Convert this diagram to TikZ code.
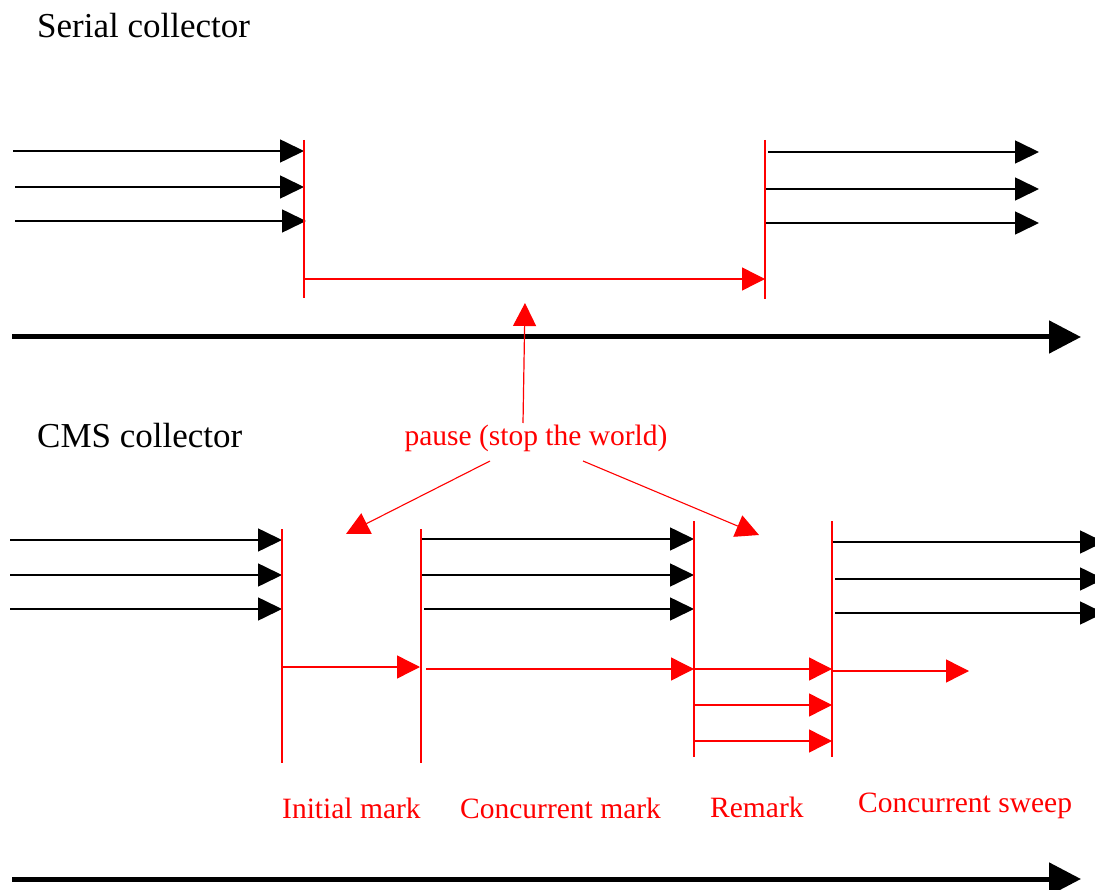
\documentclass[tikz,border=0pt]{standalone}
\usepackage{fontspec}
\setmainfont{Liberation Serif}
\usetikzlibrary{arrows.meta}
\definecolor{pure red}{RGB}{255,0,0}
\tikzset{
  blk/.style={draw=black, line width=1.6pt, -{Triangle[length=24pt,width=23pt]}},
  redarr/.style={draw=pure red, line width=1.4pt, -{Triangle[length=23pt,width=23pt]}},
  redbar/.style={draw=pure red, line width=1.4pt},
  timeline/.style={draw=black, line width=5pt, -{Triangle[length=32pt,width=32pt]}},
  title/.style={font=\fontsize{35}{40}\selectfont, text=black, inner sep=0pt, anchor=base west},
  redlabel/.style={font=\fontsize{29.5}{34}\selectfont, text=pure red, inner sep=0pt, anchor=base west},
}
\begin{document}
\begin{tikzpicture}[x=1pt,y=-1pt]
\useasboundingbox[fill=white] (0,0) rectangle (1095,890);

% ---------- Serial collector ----------
\node[title] (serial) at (37,38) {Serial collector};

\foreach \n/\y/\xa/\xb in {1/151/13/304, 2/187/15/304, 3/221/15/306}{
  \coordinate (sla\n) at (\xa,\y);
  \coordinate (slb\n) at (\xb,\y);
  \draw[blk] (sla\n) -- (slb\n);
}
\coordinate (sv1t) at (304,140);
\coordinate (sv1b) at (304,298);
\draw[redbar] (sv1t) -- (sv1b);
\coordinate (sv2t) at (765,140);
\coordinate (sv2b) at (765,299);
\draw[redbar] (sv2t) -- (sv2b);
\coordinate (sgca) at (304,279);
\coordinate (sgcb) at (765,279);
\draw[redarr] (sgca) -- (sgcb);

\foreach \n/\y/\xa in {1/152/768, 2/189/766, 3/223/766}{
  \coordinate (sra\n) at (\xa,\y);
  \coordinate (srb\n) at (1039,\y);
  \draw[blk] (sra\n) -- (srb\n);
}

\coordinate (t1a) at (12,337);
\coordinate (t1b) at (1081,337);
\draw[timeline] (t1a) -- (t1b);

% ---------- pause label ----------
\node[redlabel, anchor=base] (pause) at (536,446) {pause (stop the world)};
\coordinate (upa) at (523,423);
\coordinate (upb) at (525,303);
\draw[redarr, line width=1.2pt] (upa) -- (upb);
\coordinate (dla) at (490,461);
\coordinate (dlb) at (346,534);
\draw[redarr, line width=1.1pt] (dla) -- (dlb);
\coordinate (dra) at (583,461);
\coordinate (drb) at (759,535);
\draw[redarr, line width=1.1pt] (dra) -- (drb);

% ---------- CMS collector ----------
\node[title] (cms) at (37,447) {CMS collector};

\foreach \n/\y in {1/540, 2/575, 3/609}{
  \coordinate (cla\n) at (10,\y);
  \coordinate (clb\n) at (282,\y);
  \draw[blk] (cla\n) -- (clb\n);
}
\foreach \n/\y/\xa in {1/539/421, 2/575/421, 3/609/424}{
  \coordinate (cma\n) at (\xa,\y);
  \coordinate (cmb\n) at (694,\y);
  \draw[blk] (cma\n) -- (cmb\n);
}
\foreach \n/\y/\xa in {1/542/832, 2/579/835, 3/613/835}{
  \coordinate (cra\n) at (\xa,\y);
  \coordinate (crb\n) at (1104,\y);
  \draw[blk] (cra\n) -- (crb\n);
}

\coordinate (cv1t) at (282,529);
\coordinate (cv1b) at (282,763);
\draw[redbar] (cv1t) -- (cv1b);
\coordinate (cv2t) at (421,529);
\coordinate (cv2b) at (421,763);
\draw[redbar] (cv2t) -- (cv2b);
\coordinate (cv3t) at (694,521);
\coordinate (cv3b) at (694,757);
\draw[redbar] (cv3t) -- (cv3b);
\coordinate (cv4t) at (832,521);
\coordinate (cv4b) at (832,757);
\draw[redbar] (cv4t) -- (cv4b);

\coordinate (ima) at (282,667);
\coordinate (imb) at (420,667);
\draw[redarr] (ima) -- (imb);
\coordinate (cmka) at (426,669);
\coordinate (cmkb) at (694,669);
\draw[redarr] (cmka) -- (cmkb);
\foreach \n/\y in {1/669, 2/705, 3/741}{
  \coordinate (rma\n) at (694,\y);
  \coordinate (rmb\n) at (832,\y);
  \draw[redarr] (rma\n) -- (rmb\n);
}
\coordinate (swa) at (832,671);
\coordinate (swb) at (969,671);
\draw[redarr] (swa) -- (swb);

\node[redlabel] (linit) at (282,818) {Initial mark};
\node[redlabel] (lconc) at (460,818) {Concurrent mark};
\node[redlabel] (lrem)  at (710,817) {Remark};
\node[redlabel] (lswp)  at (858,812) {Concurrent sweep};

\coordinate (t2a) at (12,879);
\coordinate (t2b) at (1081,879);
\draw[timeline] (t2a) -- (t2b);
\end{tikzpicture}
\end{document}
